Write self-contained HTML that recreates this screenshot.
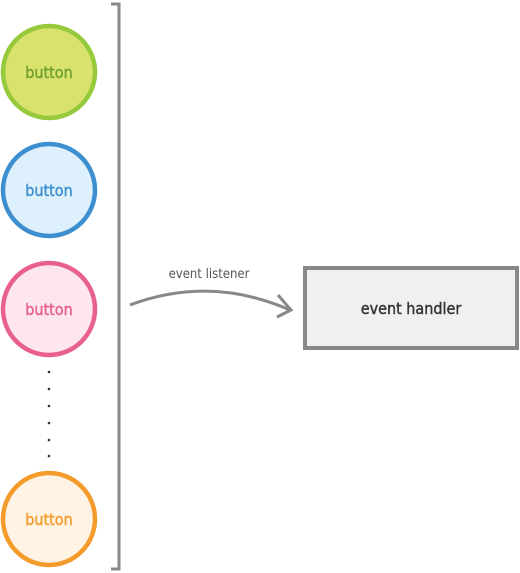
<!DOCTYPE html>
<html><head><style>body{margin:0;background:#fff}svg{display:block}text{font-family:"DejaVu Sans Condensed","DejaVu Sans",sans-serif}</style></head>
<body>
<svg width="520" height="573" viewBox="0 0 520 573" xmlns="http://www.w3.org/2000/svg">
<circle cx="49" cy="72" r="46" fill="#d9e26c" stroke="#97c93d" stroke-width="4.5"/>
<text x="49" y="78" text-anchor="middle" font-size="16" fill="#6fa032" stroke="#6fa032" stroke-width="0.4">button</text>
<circle cx="49" cy="190" r="46" fill="#ddf0fb" stroke="#3d8fd0" stroke-width="4.5"/>
<text x="49" y="196" text-anchor="middle" font-size="16" fill="#3d8fd0" stroke="#3d8fd0" stroke-width="0.4">button</text>
<circle cx="49" cy="309" r="46" fill="#fde6ef" stroke="#e8608f" stroke-width="4.5"/>
<text x="49" y="315" text-anchor="middle" font-size="16" fill="#e8608f" stroke="#e8608f" stroke-width="0.4">button</text>
<circle cx="49" cy="519" r="46" fill="#fef3e4" stroke="#f39c2c" stroke-width="4.5"/>
<text x="49" y="525" text-anchor="middle" font-size="16" fill="#f39c2c" stroke="#f39c2c" stroke-width="0.4">button</text>
<g fill="#333"><circle cx="49" cy="372" r="1.3"/><circle cx="49" cy="389" r="1.3"/><circle cx="49" cy="406" r="1.3"/><circle cx="49" cy="423" r="1.3"/><circle cx="49" cy="440" r="1.3"/><circle cx="49" cy="456" r="1.3"/></g>
<path d="M111 4 H119 V569 H111" fill="none" stroke="#888" stroke-width="3"/>
<rect x="305" y="268" width="212" height="80" fill="#f0f0f2" stroke="#888" stroke-width="4"/>
<text x="411" y="314" text-anchor="middle" font-size="16" fill="#333" stroke="#333" stroke-width="0.4">event handler</text>
<text x="209" y="278" text-anchor="middle" font-size="13" fill="#555">event listener</text>
<path d="M130 305 Q210 275 290 310" fill="none" stroke="#888" stroke-width="3"/>
<path d="M278 295 L291 310 L277 317" fill="none" stroke="#888" stroke-width="3"/>
</svg>
</body></html>
